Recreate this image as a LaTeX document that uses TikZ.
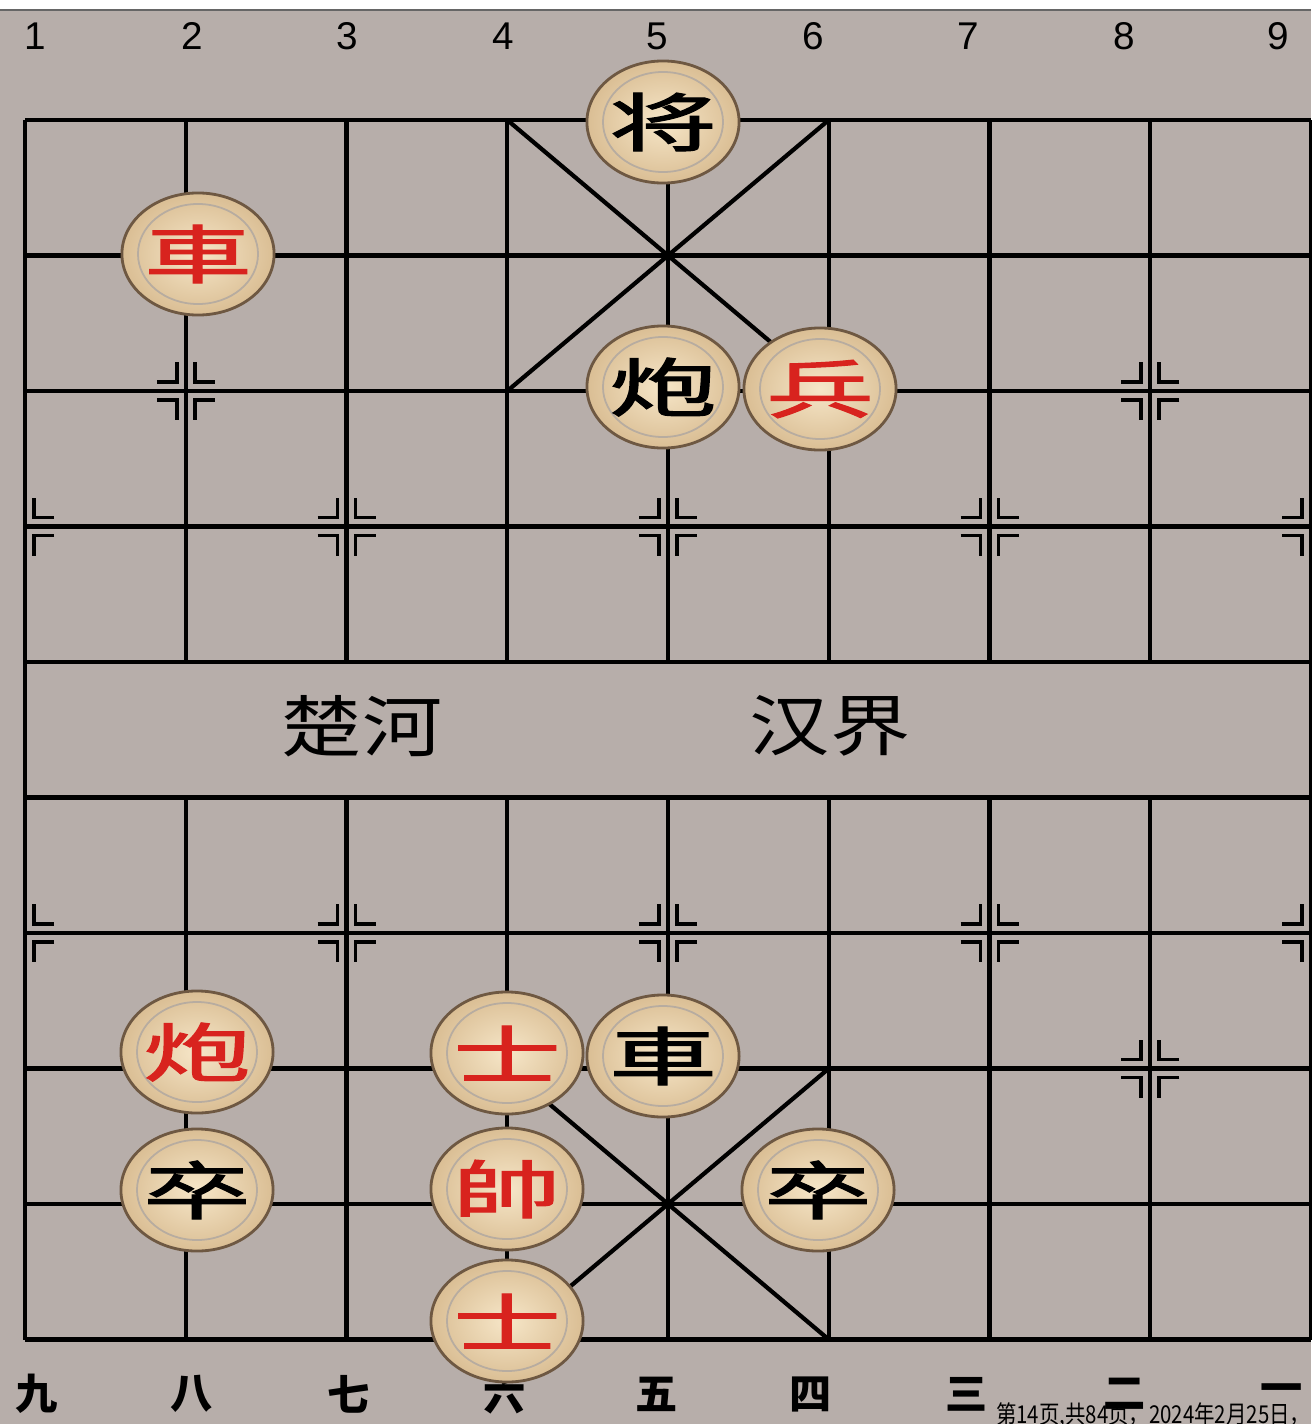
\documentclass[tikz,border=0pt]{standalone}
\usepackage{fontspec}
\setmainfont{Liberation Sans}
\newfontfamily\cjk{Noto Sans CJK SC}
\newfontfamily\cjkp[FakeBold=1.6]{Noto Sans CJK SC}
\usetikzlibrary{shapes.geometric}

\definecolor{boardgray}{RGB}{183,174,170}
\definecolor{piecelight}{RGB}{246,230,200}
\definecolor{piecerim}{RGB}{218,190,148}
\definecolor{pieceedge}{RGB}{110,88,66}
\definecolor{piecered}{RGB}{216,35,30}

% wide, flat piece letters
\newcommand{\pz}[1]{\scalebox{1.7}[1]{#1}}
% cross marks at the cannon and soldier points
\newcommand{\posmark}[3]{%
  \foreach \sx/\sy in {#3}
    \draw[markline] ({#1+\sx*29},{#2+\sy*9}) -- ({#1+\sx*9},{#2+\sy*9}) -- ({#1+\sx*9},{#2+\sy*29});
}

\tikzset{
  gridline/.style={line width=1.2pt, black},
  markline/.style={line width=1.1pt, black},
  piece/.style={ellipse, minimum width=1.43cm, minimum height=1.22cm, inner sep=0pt,
    draw=pieceedge, line width=0.8pt, inner color=piecelight, outer color=piecerim,
    font=\cjkp\fontsize{18}{18}\selectfont,
    path picture={\draw[pieceedge!50, line width=0.5pt] (path picture bounding box.center) ellipse (0.6cm and 0.5cm);}},
  redpiece/.style={piece, text=piecered},
  blackpiece/.style={piece, text=black},
  toplabel/.style={font=\fontsize{11}{11}\selectfont},
  botlabel/.style={font=\cjk\bfseries\fontsize{12}{12}\selectfont},
  river/.style={font=\cjk\fontsize{19}{19}\selectfont}
}

\begin{document}
\begin{tikzpicture}[x=0.01cm,y=-0.01cm]
\useasboundingbox (0,0) rectangle (1311,1424);
\fill[boardgray] (0,0) rectangle (1311,1424);
\fill[white] (0,0) rectangle (1311,9);
\draw[line width=0.8pt, black!60] (0,10) -- (1311,10);

% grid
\foreach \r in {0,...,9}
  \draw[gridline] (25,{120+135.5*\r}) -- (1311,{120+135.5*\r});
\draw[gridline] (25,120) -- (25,1339.5);
\draw[gridline] (1311,120) -- (1311,1339.5);
\foreach \c in {1,...,7} {
  \draw[gridline] ({25+160.75*\c},120) -- ({25+160.75*\c},662);
  \draw[gridline] ({25+160.75*\c},797.5) -- ({25+160.75*\c},1339.5);
}

% palaces
\draw[gridline] (507.25,120) -- (828.75,391);
\draw[gridline] (828.75,120) -- (507.25,391);
\draw[gridline] (507.25,1068.5) -- (828.75,1339.5);
\draw[gridline] (828.75,1068.5) -- (507.25,1339.5);

% point marks
\posmark{185.75}{391}{1/1,1/-1,-1/1,-1/-1}
\posmark{1150.25}{391}{1/1,1/-1,-1/1,-1/-1}
\posmark{185.75}{1068.5}{1/1,1/-1,-1/1,-1/-1}
\posmark{1150.25}{1068.5}{1/1,1/-1,-1/1,-1/-1}
\foreach \y in {526.5,933} {
  \posmark{25}{\y}{1/1,1/-1}
  \posmark{346.5}{\y}{1/1,1/-1,-1/1,-1/-1}
  \posmark{668}{\y}{1/1,1/-1,-1/1,-1/-1}
  \posmark{989.5}{\y}{1/1,1/-1,-1/1,-1/-1}
  \posmark{1311}{\y}{-1/1,-1/-1}
}

% file numbers
\foreach \x/\t in {35/1,192/2,347/3,503/4,657/5,813/6,968/7,1124/8,1278/9}
  \node[toplabel] (n\t) at (\x,36) {\t};
\foreach \x/\t [count=\i] in {37/九,192/八,349/七,505/六,657/五,811/四,967/三,1125/二,1282/一}
  \node[botlabel] (c\i) at (\x,1394) {\t};

% river
\node[river] (chu) at (362,726) {\scalebox{1.2}[1]{楚河}};
\node[river] (han) at (830,726) {\scalebox{1.2}[1]{汉界}};

% black side
\node[blackpiece] (bjiang) at (663,122) {\pz{将}};
\node[blackpiece] (bpao) at (663,387) {\pz{炮}};
\node[blackpiece] (bche) at (663,1056) {\pz{車}};
\node[blackpiece] (bzu1) at (197,1190) {\pz{卒}};
\node[blackpiece] (bzu2) at (818,1190) {\pz{卒}};

% red side
\node[redpiece] (rche) at (198,254) {\pz{車}};
\node[redpiece] (rbing) at (820,389) {\pz{兵}};
\node[redpiece] (rpao) at (197,1052) {\pz{炮}};
\node[redpiece] (rshi1) at (507,1053) {\pz{士}};
\node[redpiece] (rshuai) at (507,1189) {\pz{帥}};
\node[redpiece] (rshi2) at (507,1321) {\pz{士}};

% page footer
\node[anchor=east, inner sep=0pt, font=\cjk\fontsize{7}{7}\selectfont] (foot) at (1311,1415)
  {\scalebox{0.83}[1]{第14页,共84页，2024年2月25日，}};
\end{tikzpicture}
\end{document}
